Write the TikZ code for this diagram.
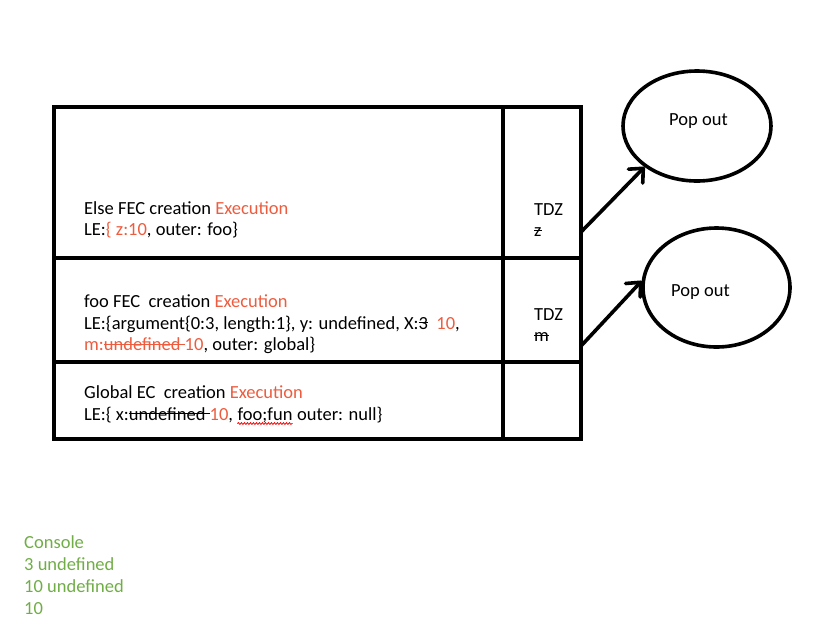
\documentclass[tikz,border=0pt]{standalone}
\usepackage{fontspec}
\setmainfont{Carlito}
\usetikzlibrary{arrows.meta,shapes.geometric,decorations.pathmorphing}
\definecolor{exred}{RGB}{237,92,62}
\definecolor{congreen}{RGB}{112,173,71}
\newsavebox\strikebox
\newcommand\strike[1]{\sbox\strikebox{#1}\rlap{\rule[0.3em]{\wd\strikebox}{1.2pt}}\usebox\strikebox}
\begin{document}
\begin{tikzpicture}[x=1pt,y=-1pt,
  txt/.style={anchor=base west, inner sep=0pt, font=\fontsize{18.5}{22}\selectfont},
  frame/.style={line width=3.6pt},
  arr/.style={line width=3.6pt, line cap=round, -{Straight Barb[length=11pt,width=20pt,round]}},
  popout/.style={ellipse, draw, line width=3.6pt, inner sep=0pt},
  wave/.style={draw=red, line width=0.8pt, decorate, decoration={snake, amplitude=0.9pt, segment length=3pt}}]
\useasboundingbox (0,0) rectangle (816,630);
% frame
\draw[frame] (54,107) rectangle (581,439);
\draw[frame] (503,105) -- (503,439);
\draw[frame] (54,258) -- (581,258);
\draw[frame] (54,362) -- (581,362);
% left texts
\node[txt] (e1) at (84,214) {Else FEC creation \textcolor{exred}{Execution}};
\node[txt] (e2) at (84,235.5) {LE:\textcolor{exred}{\{ z:10}, outer: foo\}};
\node[txt] (f1) at (84,307.5) {foo FEC\ \ creation \textcolor{exred}{Execution}};
\node[txt] (f2) at (84,329) {LE:\{argument\{0:3, length:1\}, y: undefined, X:\strike{3}\ \ \textcolor{exred}{10},};
\node[txt] (f3) at (84,350.5) {\textcolor{exred}{m:\strike{undefined\ }10}, outer: global\}};
\node[txt] (g1) at (84,398) {Global EC\ \ creation \textcolor{exred}{Execution}};
\node[txt] (g2a) at (84,420) {LE:\{ x:\strike{undefined\ }\textcolor{exred}{10},\kern0.226em};
\node[txt] (g2b) at (g2a.base east) {foo;fun};
\node[txt] (g2c) at (g2b.base east) {\kern0.226em outer: null\}};
\draw[wave] ([yshift=-3.5pt]g2b.base west) -- ([yshift=-3.5pt]g2b.base east);
% TDZ
\node[txt] (t1) at (534,215) {TDZ};
\node[txt] (t1z) at (534,236.5) {\strike{z}};
\node[txt] (t2) at (534,320) {TDZ};
\node[txt] (t2m) at (534,341.5) {\strike{m}};
% ellipses
\node[popout, minimum width=148pt, minimum height=110pt] (pop1) at (697,126) {};
\node[popout, minimum width=147pt, minimum height=119pt] (pop2) at (716.5,287.5) {};
\node[txt] (pt1) at (669,125) {Pop out};
\node[txt] (pt2) at (671,296.5) {Pop out};
% arrows
\coordinate (a1) at (581,232);
\coordinate (a2) at (581,346);
\draw[arr] (a1) -- (pop1.218);
\draw[arr] (a2) -- (pop2.175);
% console
\begin{scope}[every node/.append style={text=congreen}]
\node[txt] (c1) at (24,548) {Console};
\node[txt] (c2) at (24,570.5) {3 undefined};
\node[txt] (c3) at (24,592) {10 undefined};
\node[txt] (c4) at (24,614.5) {10};
\end{scope}
\end{tikzpicture}
\end{document}
